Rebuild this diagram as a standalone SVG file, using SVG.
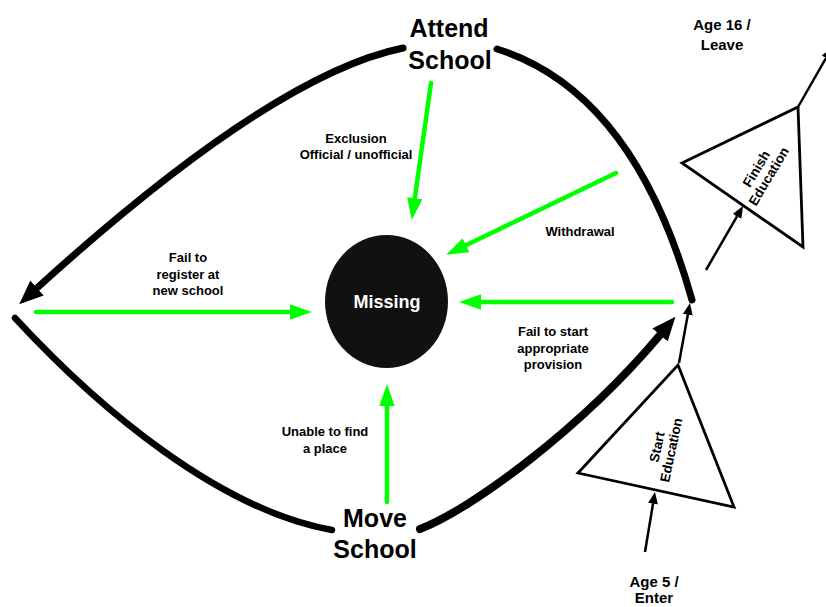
<svg xmlns="http://www.w3.org/2000/svg" width="826" height="607" viewBox="0 0 826 607">
<style>
text{font-family:"Liberation Sans",Arial,sans-serif;font-weight:bold;fill:#000;text-anchor:middle}
.big{font-size:25px}
.lbl{font-size:13px}
.age{font-size:15px}
.rot{font-size:13.5px}
.arc{fill:none;stroke:#000;stroke-width:7;stroke-linecap:round}
.grn{fill:none;stroke:#00ff00;stroke-width:4.5;stroke-linecap:round}
.thin{fill:none;stroke:#000;stroke-width:2.5}
.tri{fill:#fff;stroke:#000;stroke-width:2.8;stroke-linejoin:miter}
</style>
<defs>
<marker id="ga" markerUnits="userSpaceOnUse" markerWidth="22" markerHeight="16" viewBox="0 0 20 14" refX="0" refY="7" orient="auto"><path d="M0,0 L20,7 L0,14 z" fill="#00ff00"/></marker>
<marker id="ba" markerUnits="userSpaceOnUse" markerWidth="24" markerHeight="20" viewBox="0 0 24 20" refX="0" refY="10" orient="auto"><path d="M0,0 L24,10 L0,20 z" fill="#000"/></marker>
<marker id="sa" markerUnits="userSpaceOnUse" markerWidth="12" markerHeight="10" viewBox="0 0 12 10" refX="0" refY="5" orient="auto"><path d="M0,0 L12,5 L0,10 z" fill="#000"/></marker>
</defs>

<g id="connectors">
<path class="arc" d="M403,48 C320,65 200,140 37,288" marker-end="url(#ba)"/>
<path class="arc" d="M497,49 C580,75 650,150 692,300"/>
<path class="arc" style="stroke-width:6.5" d="M15,318 C100,410 220,510 332,530"/>
<path class="arc" style="stroke-width:8" d="M420,529 C470,510 580,430 660,335" marker-end="url(#ba)"/>
<path class="grn" d="M431,83 L414.8,198.2" marker-end="url(#ga)"/>
<path class="grn" d="M616,173 L466,245.3" marker-end="url(#ga)"/>
<path class="grn" d="M672,302 L481,302" marker-end="url(#ga)"/>
<path class="grn" d="M36,312 L290,312" marker-end="url(#ga)"/>
<path class="grn" d="M387,502 L387,406" marker-end="url(#ga)"/>
<path class="thin" d="M679,363 L687.8,314.8" marker-end="url(#sa)"/>
<path class="thin" d="M645,552 L653,503.8" marker-end="url(#sa)"/>
<path class="thin" d="M706,270 L737,216.4" marker-end="url(#sa)"/>
<path class="thin" d="M798,107 L826,58" marker-end="url(#sa)"/>
</g>

<g id="attend-school">
<text class="big" x="449" y="37">Attend</text>
<text class="big" x="450" y="69">School</text>
</g>
<g id="move-school">
<text class="big" x="375" y="527">Move</text>
<text class="big" x="375" y="558">School</text>
</g>
<g id="missing">
<ellipse cx="386.5" cy="301.5" rx="61.5" ry="66.5" fill="#111"/>
<text x="387" y="308" style="font-size:18px;fill:#fff">Missing</text>
</g>
<g id="start-education">
<polygon class="tri" points="578,473 678,365 734,507"/>
<g transform="translate(664,448.5) rotate(-78)">
<text class="rot" x="0" y="-2.5">Start</text>
<text class="rot" x="0" y="12">Education</text>
</g>
</g>
<g id="finish-education">
<polygon class="tri" points="682,163 798,107 803,247"/>
<g transform="translate(762.5,172.5) rotate(-59)">
<text class="rot" x="0" y="-2.5">Finish</text>
<text class="rot" x="0" y="12">Education</text>
</g>
</g>
<g id="labels">
<text class="lbl" x="356" y="143">Exclusion</text>
<text class="lbl" x="356" y="159">Official / unofficial</text>
<text class="lbl" x="580" y="236">Withdrawal</text>
<text class="lbl" x="188" y="262">Fail to</text>
<text class="lbl" x="188" y="279">register at</text>
<text class="lbl" x="188" y="295">new school</text>
<text class="lbl" x="553" y="336">Fail to start</text>
<text class="lbl" x="553" y="353">appropriate</text>
<text class="lbl" x="553" y="369">provision</text>
<text class="lbl" x="325" y="436">Unable to find</text>
<text class="lbl" x="325" y="453">a place</text>
</g>
<g id="age-16">
<text class="age" x="722" y="30">Age 16 /</text>
<text class="age" x="722" y="50">Leave</text>
</g>
<g id="age-5">
<text class="age" x="654" y="587">Age 5 /</text>
<text class="age" x="654" y="603">Enter</text>
</g>
</svg>
